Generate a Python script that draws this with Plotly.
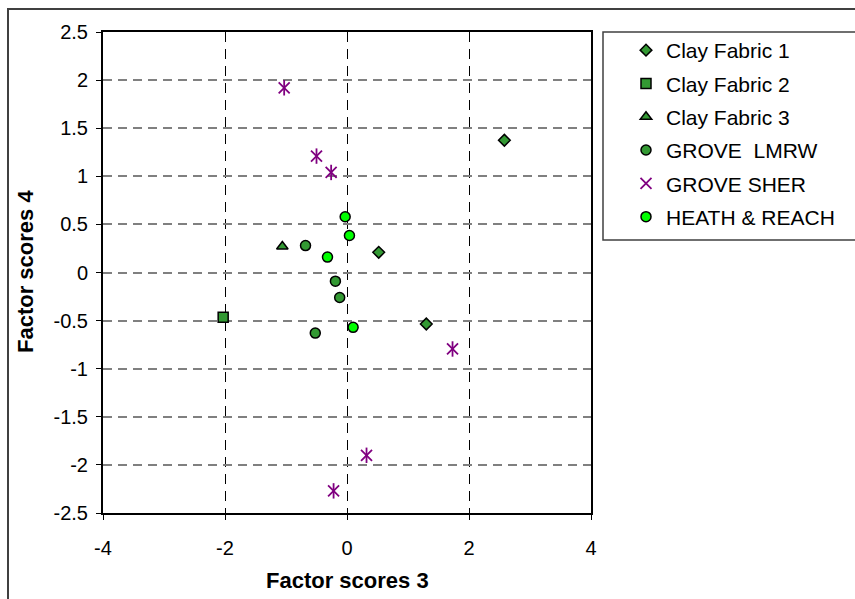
import plotly.graph_objects as go

# ---- data ----
cf1_x = [2.58, 0.52, 1.30]
cf1_y = [1.375, 0.21, -0.535]
cf2_x = [-2.03]
cf2_y = [-0.465]
cf3_x = [-1.06]
cf3_y = [0.27]
lmrw_x = [-0.68, -0.19, -0.12, -0.52]
lmrw_y = [0.28, -0.09, -0.26, -0.63]
sher_x = [-1.03, -0.50, -0.26, 1.73, 0.32, -0.22]
sher_y = [1.92, 1.21, 1.04, -0.795, -1.90, -2.27]
heath_x = [-0.03, 0.04, -0.32, 0.10]
heath_y = [0.58, 0.385, 0.16, -0.57]

x_tickvals = [-4, -2, 0, 2, 4]
x_ticktext = ["-4", "-2", "0", "2", "4"]
y_tickvals = [2.5, 2, 1.5, 1, 0.5, 0, -0.5, -1, -1.5, -2, -2.5]
y_ticktext = ["2.5", "2", "1.5", "1", "0.5", "0", "-0.5", "-1", "-1.5", "-2", "-2.5"]

GREEN = "#339933"
LIME = "#00FF00"
PURPLE = "#800080"
FONT = "Liberation Sans, Arial, sans-serif"

fig = go.Figure()

def add(name, xs, ys, symbol, color, size, group):
    fig.add_trace(go.Scatter(
        x=xs, y=ys, mode="markers", name=name, legendgroup=group,
        marker=dict(symbol=symbol, color=color, size=size,
                    line=dict(color="black", width=1.5)),
    ))

add("Clay Fabric 1", cf1_x, cf1_y, "diamond", GREEN, 9, "g1")
add("Clay Fabric 2", cf2_x, cf2_y, "square", GREEN, 10, "g2")
add("Clay Fabric 3", cf3_x, cf3_y, "triangle-up", GREEN, 10, "g3")
add("GROVE  LMRW", lmrw_x, lmrw_y, "circle", GREEN, 10, "g4")
# GROVE SHER star marker = X plus vertical bar (two layered symbols)
fig.add_trace(go.Scatter(
    x=sher_x, y=sher_y, mode="markers", name="GROVE SHER", legendgroup="g5",
    marker=dict(symbol="x-thin-open", color=PURPLE, size=11,
                line=dict(color=PURPLE, width=1.8)),
))
fig.add_trace(go.Scatter(
    x=sher_x, y=sher_y, mode="markers", name="GROVE SHER", legendgroup="g5",
    showlegend=False, hoverinfo="skip",
    marker=dict(symbol="line-ns-open", color=PURPLE, size=11,
                line=dict(color=PURPLE, width=1.8)),
))
add("HEATH & REACH", heath_x, heath_y, "circle", LIME, 10, "g6")

L, R, T, B = 103, 591, 32, 513
W, H = 855, 599
pw, ph = R - L, B - T

def px_x(p):
    return (p - L) / pw

def px_y(p):
    return (B - p) / ph

fig.update_layout(
    width=W, height=H,
    margin=dict(l=L, r=W - R, t=T, b=H - B, pad=0),
    paper_bgcolor="white", plot_bgcolor="white",
    font=dict(family=FONT, color="black", size=20),
    showlegend=True,
    legend=dict(
        x=px_x(626), y=px_y(30), xanchor="left", yanchor="top",
        bgcolor="rgba(0,0,0,0)", borderwidth=0,
        font=dict(family=FONT, size=21, color="black"),
        traceorder="grouped", tracegroupgap=3,
    ),
    xaxis=dict(
        range=[-4, 4], tickvals=x_tickvals, ticktext=x_ticktext,
        showgrid=True, gridcolor="black", griddash="10px,7px", gridwidth=1,
        zeroline=False, showline=True, linecolor="black", linewidth=2,
        mirror=True, ticks="outside", ticklen=5, tickcolor="black", tickwidth=1,
        tickfont=dict(family=FONT, size=20), ticklabelstandoff=11,
        fixedrange=True,
    ),
    yaxis=dict(
        range=[-2.5, 2.5], tickvals=y_tickvals, ticktext=y_ticktext,
        showgrid=True, gridcolor="#808080", griddash="9px,6px", gridwidth=1.5,
        zeroline=False, showline=True, linecolor="black", linewidth=2,
        mirror=True, ticks="outside", ticklen=5, tickcolor="black", tickwidth=1,
        tickfont=dict(family=FONT, size=20), ticklabelstandoff=4,
        fixedrange=True,
    ),
    shapes=[
        # outer chart border
        dict(type="rect", xref="paper", yref="paper",
             x0=px_x(8), x1=px_x(880), y0=px_y(620), y1=px_y(9),
             line=dict(color="#404040", width=2), fillcolor="rgba(0,0,0,0)",
             layer="below"),
        # legend box
        dict(type="rect", xref="paper", yref="paper",
             x0=px_x(603), x1=px_x(880), y0=px_y(240), y1=px_y(32),
             line=dict(color="#404040", width=1.5), fillcolor="rgba(0,0,0,0)",
             layer="below"),
    ],
    annotations=[
        dict(text="<b>Factor scores 3</b>", xref="paper", yref="paper",
             x=px_x(347), y=px_y(580), xanchor="center", yanchor="middle",
             showarrow=False, font=dict(family=FONT, size=22, color="black")),
        dict(text="<b>Factor scores 4</b>", xref="paper", yref="paper",
             x=px_x(25), y=px_y(272), xanchor="center", yanchor="middle",
             textangle=-90, showarrow=False,
             font=dict(family=FONT, size=22, color="black")),
    ],
)

fig.write_html("out.html", config={"displayModeBar": False},
               post_script="document.body.style.margin='0';")
